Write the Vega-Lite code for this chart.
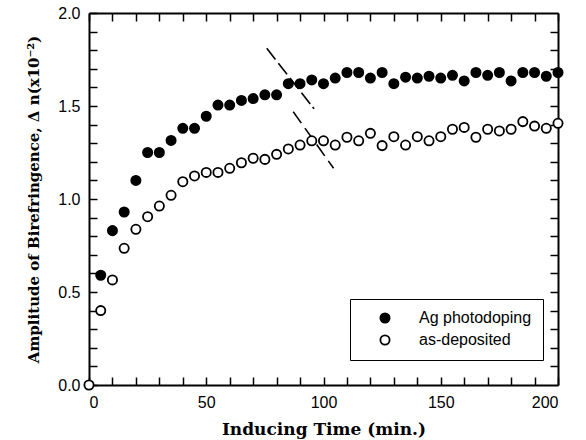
{
  "$schema": "https://vega.github.io/schema/vega-lite/v6.json",
  "width": 469,
  "height": 372,
  "autosize": "none",
  "padding": {"left": 89, "top": 13, "right": 28, "bottom": 55},
  "background": "white",
  "config": {
    "view": {"stroke": null},
    "axis": {
      "domainColor": "black", "domainWidth": 2, "tickColor": "black", "tickWidth": 1.5,
      "labelFont": "Liberation Sans", "labelFontSize": 16, "labelColor": "black",
      "titleFont": "DejaVu Serif", "titleFontWeight": "bold", "titleColor": "black", "grid": false
    }
  },
  "datasets": {
    "pts": [
      {"t": 5, "v": 0.59, "s": "Ag photodoping"}, {"t": 10, "v": 0.83, "s": "Ag photodoping"}, {"t": 15, "v": 0.93, "s": "Ag photodoping"}, {"t": 20, "v": 1.10, "s": "Ag photodoping"},
      {"t": 25, "v": 1.25, "s": "Ag photodoping"}, {"t": 30, "v": 1.25, "s": "Ag photodoping"}, {"t": 35, "v": 1.315, "s": "Ag photodoping"}, {"t": 40, "v": 1.38, "s": "Ag photodoping"},
      {"t": 45, "v": 1.38, "s": "Ag photodoping"}, {"t": 50, "v": 1.445, "s": "Ag photodoping"}, {"t": 55, "v": 1.505, "s": "Ag photodoping"}, {"t": 60, "v": 1.505, "s": "Ag photodoping"},
      {"t": 65, "v": 1.53, "s": "Ag photodoping"}, {"t": 70, "v": 1.54, "s": "Ag photodoping"}, {"t": 75, "v": 1.56, "s": "Ag photodoping"}, {"t": 80, "v": 1.56, "s": "Ag photodoping"},
      {"t": 85, "v": 1.62, "s": "Ag photodoping"}, {"t": 90, "v": 1.62, "s": "Ag photodoping"}, {"t": 95, "v": 1.64, "s": "Ag photodoping"}, {"t": 100, "v": 1.62, "s": "Ag photodoping"},
      {"t": 105, "v": 1.65, "s": "Ag photodoping"}, {"t": 110, "v": 1.68, "s": "Ag photodoping"}, {"t": 115, "v": 1.68, "s": "Ag photodoping"}, {"t": 120, "v": 1.65, "s": "Ag photodoping"},
      {"t": 125, "v": 1.68, "s": "Ag photodoping"}, {"t": 130, "v": 1.62, "s": "Ag photodoping"}, {"t": 135, "v": 1.655, "s": "Ag photodoping"}, {"t": 140, "v": 1.65, "s": "Ag photodoping"},
      {"t": 145, "v": 1.66, "s": "Ag photodoping"}, {"t": 150, "v": 1.65, "s": "Ag photodoping"}, {"t": 155, "v": 1.665, "s": "Ag photodoping"}, {"t": 160, "v": 1.635, "s": "Ag photodoping"},
      {"t": 165, "v": 1.68, "s": "Ag photodoping"}, {"t": 170, "v": 1.665, "s": "Ag photodoping"}, {"t": 175, "v": 1.68, "s": "Ag photodoping"}, {"t": 180, "v": 1.635, "s": "Ag photodoping"},
      {"t": 185, "v": 1.68, "s": "Ag photodoping"}, {"t": 190, "v": 1.68, "s": "Ag photodoping"}, {"t": 195, "v": 1.66, "s": "Ag photodoping"}, {"t": 200, "v": 1.68, "s": "Ag photodoping"},
      {"t": 0, "v": 0.0, "s": "as-deposited"}, {"t": 5, "v": 0.40, "s": "as-deposited"}, {"t": 10, "v": 0.565, "s": "as-deposited"}, {"t": 15, "v": 0.735, "s": "as-deposited"},
      {"t": 20, "v": 0.837, "s": "as-deposited"}, {"t": 25, "v": 0.905, "s": "as-deposited"}, {"t": 30, "v": 0.962, "s": "as-deposited"}, {"t": 35, "v": 1.02, "s": "as-deposited"},
      {"t": 40, "v": 1.093, "s": "as-deposited"}, {"t": 45, "v": 1.124, "s": "as-deposited"}, {"t": 50, "v": 1.143, "s": "as-deposited"}, {"t": 55, "v": 1.143, "s": "as-deposited"},
      {"t": 60, "v": 1.165, "s": "as-deposited"}, {"t": 65, "v": 1.195, "s": "as-deposited"}, {"t": 70, "v": 1.219, "s": "as-deposited"}, {"t": 75, "v": 1.213, "s": "as-deposited"},
      {"t": 80, "v": 1.24, "s": "as-deposited"}, {"t": 85, "v": 1.269, "s": "as-deposited"}, {"t": 90, "v": 1.29, "s": "as-deposited"}, {"t": 95, "v": 1.313, "s": "as-deposited"},
      {"t": 100, "v": 1.313, "s": "as-deposited"}, {"t": 105, "v": 1.29, "s": "as-deposited"}, {"t": 110, "v": 1.332, "s": "as-deposited"}, {"t": 115, "v": 1.313, "s": "as-deposited"},
      {"t": 120, "v": 1.353, "s": "as-deposited"}, {"t": 125, "v": 1.287, "s": "as-deposited"}, {"t": 130, "v": 1.335, "s": "as-deposited"}, {"t": 135, "v": 1.29, "s": "as-deposited"},
      {"t": 140, "v": 1.335, "s": "as-deposited"}, {"t": 145, "v": 1.313, "s": "as-deposited"}, {"t": 150, "v": 1.335, "s": "as-deposited"}, {"t": 155, "v": 1.375, "s": "as-deposited"},
      {"t": 160, "v": 1.385, "s": "as-deposited"}, {"t": 165, "v": 1.332, "s": "as-deposited"}, {"t": 170, "v": 1.375, "s": "as-deposited"}, {"t": 175, "v": 1.366, "s": "as-deposited"},
      {"t": 180, "v": 1.375, "s": "as-deposited"}, {"t": 185, "v": 1.416, "s": "as-deposited"}, {"t": 190, "v": 1.392, "s": "as-deposited"}, {"t": 195, "v": 1.38, "s": "as-deposited"},
      {"t": 200, "v": 1.407, "s": "as-deposited"}
    ],
    "guides": [
      {"t1": 75.8, "v1": 1.81, "t2": 79.51, "v2": 1.75},
      {"t1": 80.74, "v1": 1.73, "t2": 84.45, "v2": 1.671},
      {"t1": 85.69, "v1": 1.651, "t2": 89.4, "v2": 1.591},
      {"t1": 90.63, "v1": 1.571, "t2": 94.34, "v2": 1.511},
      {"t1": 95.37, "v1": 1.495, "t2": 95.99, "v2": 1.485},
      {"t1": 87.1, "v1": 1.469, "t2": 90.54, "v2": 1.408},
      {"t1": 92.09, "v1": 1.381, "t2": 95.53, "v2": 1.32},
      {"t1": 97.08, "v1": 1.293, "t2": 100.52, "v2": 1.232},
      {"t1": 102.06, "v1": 1.205, "t2": 104.3, "v2": 1.165}
    ]
  },
  "layer": [
    {
      "data": {"name": "guides"},
      "mark": {"type": "rule", "color": "black", "strokeWidth": 1.6},
      "encoding": {
        "x": {"field": "t1", "type": "quantitative", "scale": {"domain": [0, 200], "nice": false},
          "axis": {"orient": "top", "tickCount": 20, "labels": false, "title": null, "tickSize": -8}},
        "x2": {"field": "t2"},
        "y": {"field": "v1", "type": "quantitative", "scale": {"domain": [0, 2], "nice": false},
          "axis": {"orient": "right", "values": [0.1,0.2,0.3,0.4,0.5,0.6,0.7,0.8,0.9,1,1.1,1.2,1.3,1.4,1.5,1.6,1.7,1.8,1.9], "labels": false, "title": null, "tickSize": -8}},
        "y2": {"field": "v2"}
      }
    },
    {
      "data": {"name": "pts"},
      "mark": {"type": "point", "shape": "circle", "filled": true, "size": 85, "stroke": "black", "strokeWidth": 1.8, "opacity": 1, "clip": false},
      "encoding": {
        "x": {"field": "t", "type": "quantitative", "scale": {"domain": [0, 200], "nice": false},
          "axis": {"orient": "bottom", "values": [0,10,20,30,40,50,60,70,80,90,100,110,120,130,140,150,160,170,180,190,200],
            "labelExpr": "datum.value % 50 === 0 ? datum.label : ''", "labelPadding": 17,
            "tickSize": -8, "tickColor": "black", "tickWidth": 1.5,
            "title": "Inducing Time (min.)", "titleFontSize": 17, "titlePadding": 11}},
        "y": {"field": "v", "type": "quantitative", "scale": {"domain": [0, 2], "nice": false},
          "axis": {"orient": "left", "tickCount": 20,
            "labelExpr": "round(datum.value*10) % 5 === 0 ? format(datum.value, '.1f') : ''", "labelPadding": 17,
            "tickSize": -8, "tickColor": "black", "tickWidth": 1.5,
            "title": "Amplitude of Birefringence, Δ n(x10⁻²)", "titleFontSize": 15, "titlePadding": 16}},
        "fill": {"field": "s", "type": "nominal",
          "scale": {"domain": ["Ag photodoping", "as-deposited"], "range": ["black", "white"]},
          "legend": {"title": null, "orient": "none", "legendX": 261, "legendY": 286,
            "strokeColor": "black", "fillColor": "white", "padding": 11, "symbolOffset": 16, "labelOffset": 26,
            "symbolType": "circle", "symbolSize": 85, "symbolStrokeColor": "black", "symbolStrokeWidth": 1.8,
            "labelFont": "Liberation Sans", "labelFontSize": 16, "labelColor": "black", "rowPadding": 4}}
      }
    }
  ],
  "resolve": {"axis": {"x": "independent", "y": "independent"}}
}
